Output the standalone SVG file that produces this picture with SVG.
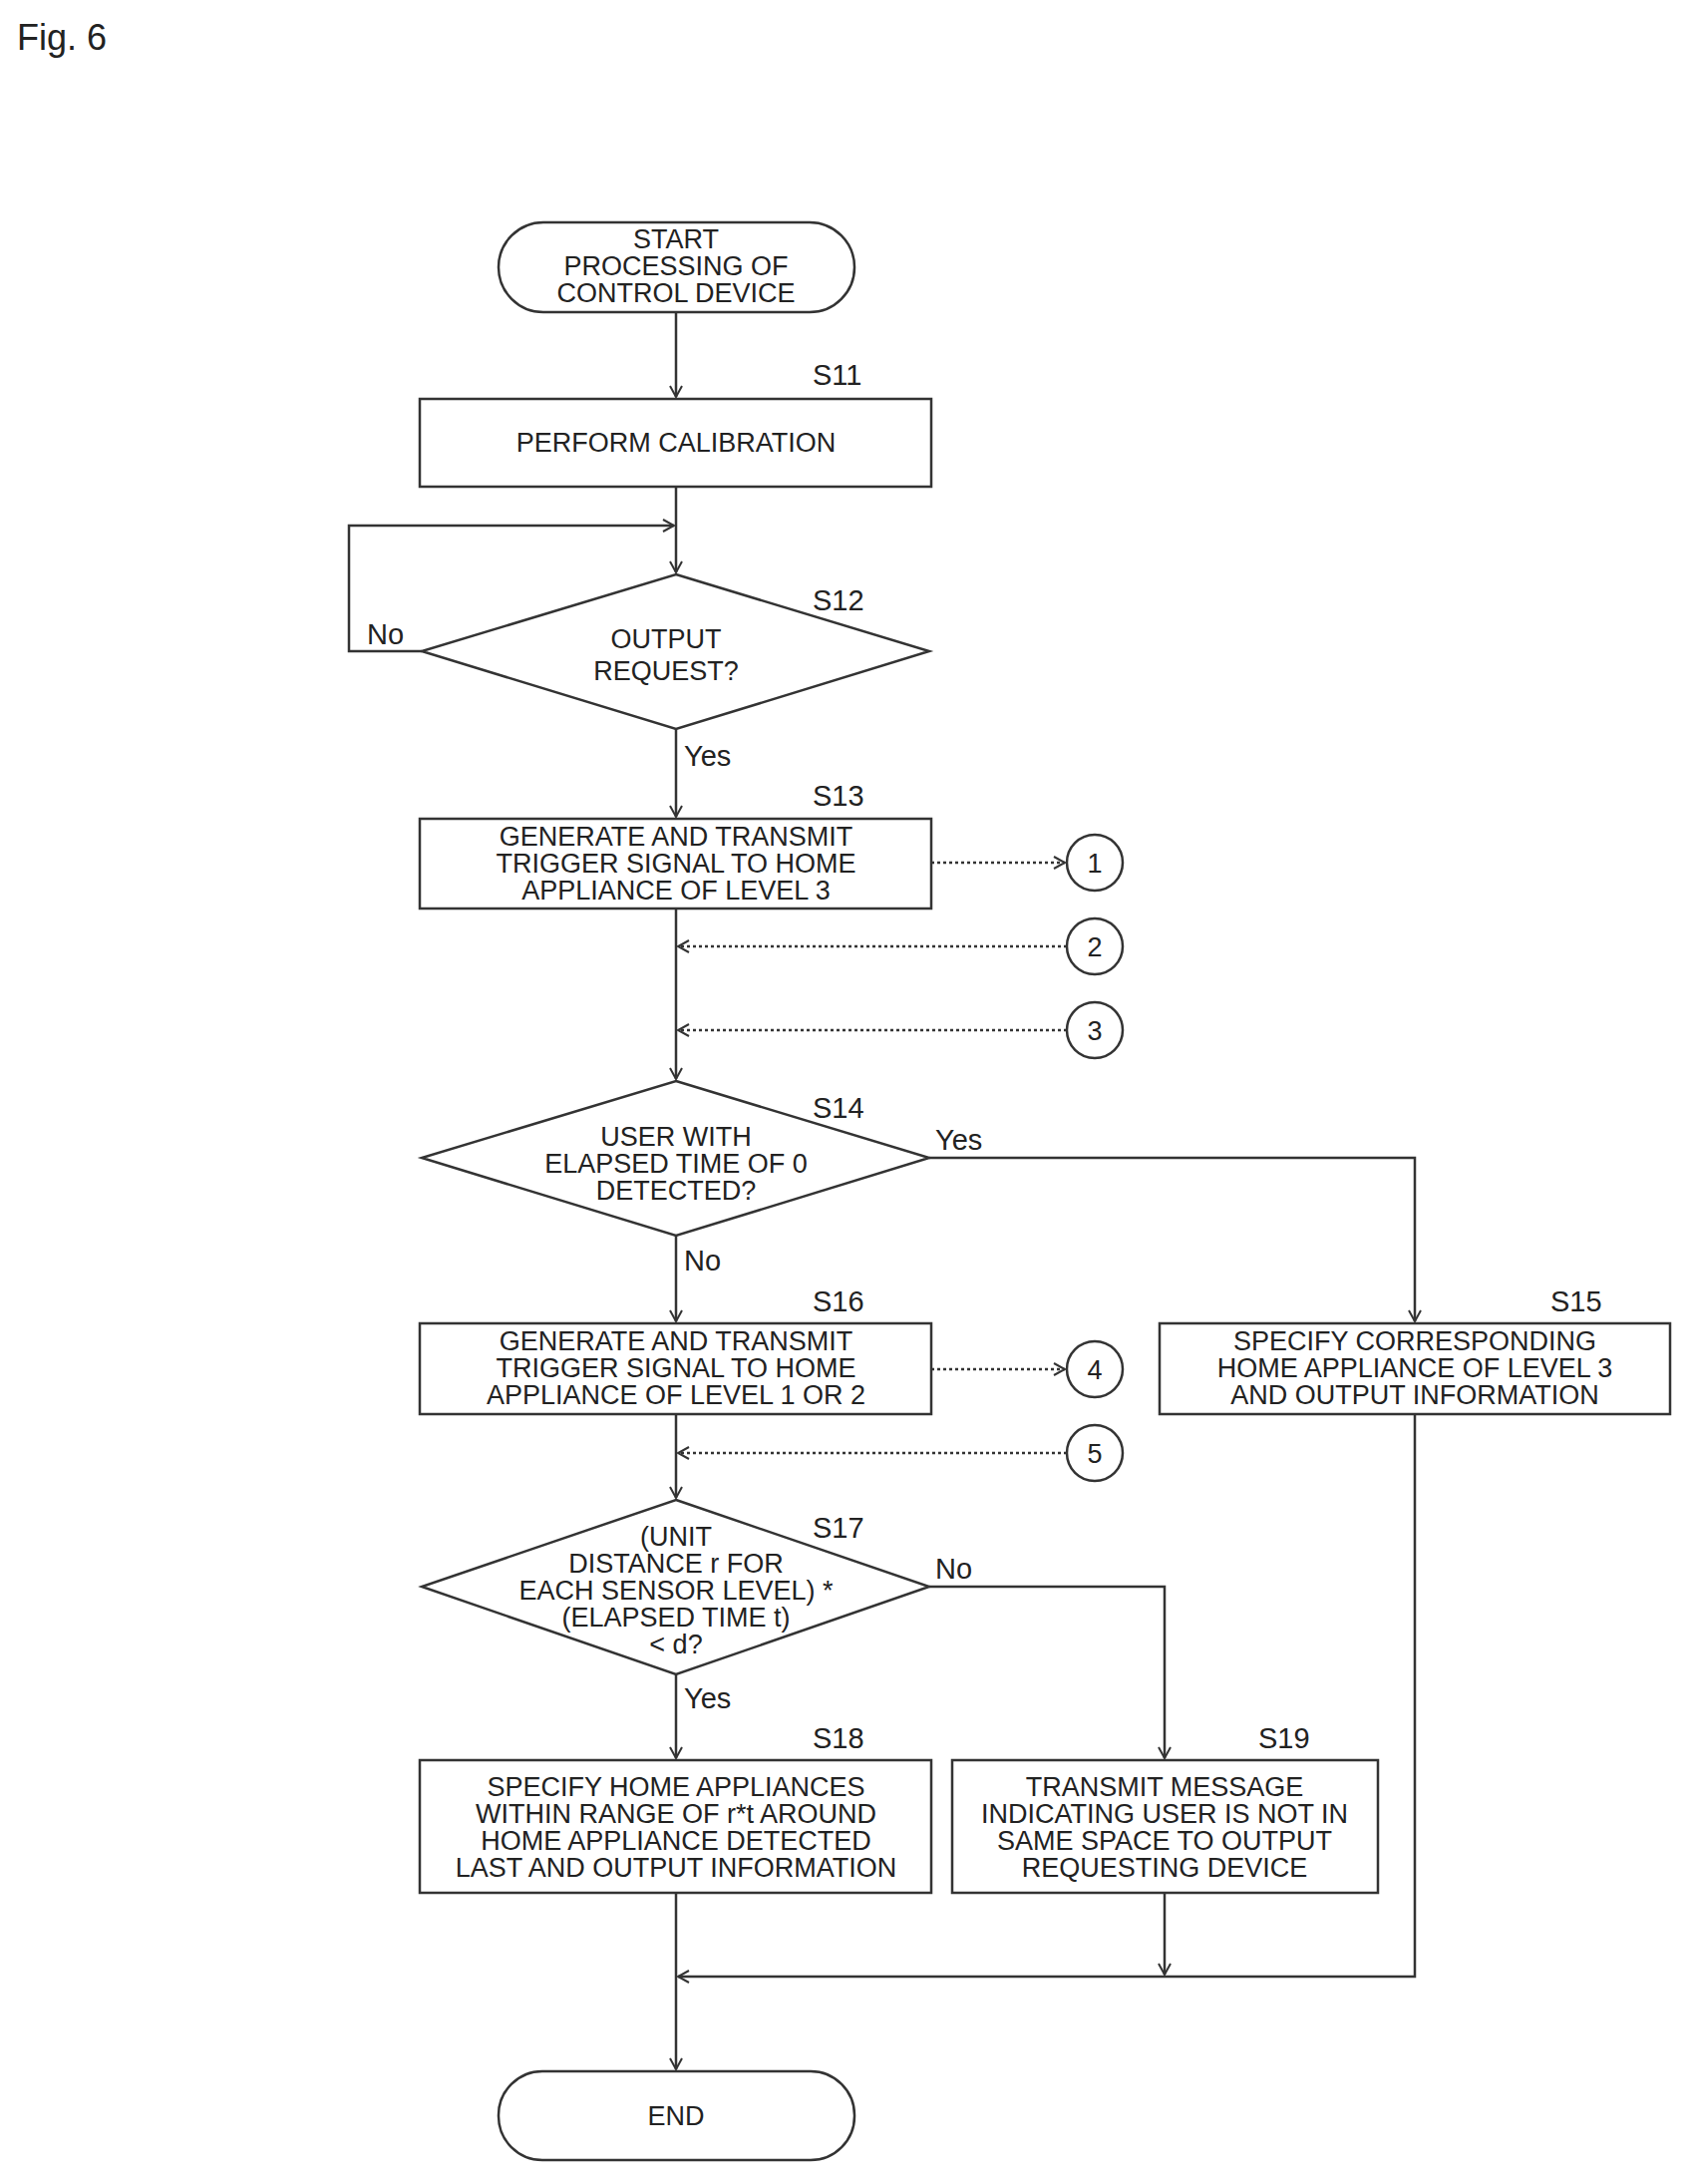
<svg xmlns="http://www.w3.org/2000/svg" width="1697" height="2190" viewBox="0 0 1697 2190">
<style>
.s{fill:#fff;stroke:#333;stroke-width:2.5}
.t{font-family:"Liberation Sans",Arial,sans-serif;font-size:27px;fill:#222;text-anchor:middle}
.l{font-family:"Liberation Sans",Arial,sans-serif;font-size:29px;fill:#222}
.c{fill:none;stroke:#333;stroke-width:2.5}
.d{fill:none;stroke:#333;stroke-width:2.5;stroke-dasharray:3 3}
</style>
<defs>
<marker id="a" markerWidth="14" markerHeight="14" refX="12" refY="7" orient="auto" markerUnits="userSpaceOnUse">
<path d="M1,1 L12,7 L1,13" fill="none" stroke="#333" stroke-width="2"/>
</marker>
</defs>
<rect width="1697" height="2190" fill="#fff"/>
<text x="17" y="50" class="l" style="font-size:36px">Fig. 6</text>

<g id="connectors">
<path class="c" d="M678,313 V398" marker-end="url(#a)"/>
<path class="c" d="M678,488 V574" marker-end="url(#a)"/>
<path class="c" d="M423,653 H350 V527 H676" marker-end="url(#a)"/>
<path class="c" d="M678,731 V819" marker-end="url(#a)"/>
<path class="d" d="M934,865 H1068" marker-end="url(#a)"/>
<path class="c" d="M678,911 V1082" marker-end="url(#a)"/>
<path class="d" d="M1070,949 H680" marker-end="url(#a)"/>
<path class="d" d="M1070,1033 H680" marker-end="url(#a)"/>
<path class="c" d="M932,1161 H1419 V1325" marker-end="url(#a)"/>
<path class="c" d="M678,1239 V1325" marker-end="url(#a)"/>
<path class="d" d="M934,1373 H1068" marker-end="url(#a)"/>
<path class="c" d="M678,1418 V1502" marker-end="url(#a)"/>
<path class="d" d="M1070,1457 H680" marker-end="url(#a)"/>
<path class="c" d="M932,1591 H1168 V1763" marker-end="url(#a)"/>
<path class="c" d="M678,1679 V1763" marker-end="url(#a)"/>
<path class="c" d="M1168,1898 V1980" marker-end="url(#a)"/>
<path class="c" d="M1419,1418 V1982 H680" marker-end="url(#a)"/>
<path class="c" d="M678,1898 V2075" marker-end="url(#a)"/>
</g>

<g id="start"><rect class="s" x="500" y="223" width="357" height="90" rx="45"/>
<text class="t" x="678" y="249">START</text><text class="t" x="678" y="276">PROCESSING OF</text><text class="t" x="678" y="303">CONTROL DEVICE</text></g>

<g id="S11"><rect class="s" x="421" y="400" width="513" height="88"/>
<text class="t" x="678" y="453">PERFORM CALIBRATION</text><text class="l" x="815" y="386">S11</text></g>

<g id="S12"><polygon class="s" points="678,576 932,653 678,731 423,653"/>
<text class="t" x="668" y="650">OUTPUT</text><text class="t" x="668" y="682">REQUEST?</text>
<text class="l" x="815" y="612">S12</text><text class="l" x="368" y="646">No</text><text class="l" x="686" y="768">Yes</text></g>

<g id="S13"><rect class="s" x="421" y="821" width="513" height="90"/>
<text class="t" x="678" y="848">GENERATE AND TRANSMIT</text><text class="t" x="678" y="875">TRIGGER SIGNAL TO HOME</text><text class="t" x="678" y="902">APPLIANCE OF LEVEL 3</text>
<text class="l" x="815" y="808">S13</text></g>

<g id="c1"><circle class="s" cx="1098" cy="865" r="28"/><text class="t" x="1098" y="875">1</text></g>
<g id="c2"><circle class="s" cx="1098" cy="949" r="28"/><text class="t" x="1098" y="959">2</text></g>
<g id="c3"><circle class="s" cx="1098" cy="1033" r="28"/><text class="t" x="1098" y="1043">3</text></g>

<g id="S14"><polygon class="s" points="678,1084 932,1161 678,1239 423,1161"/>
<text class="t" x="678" y="1149">USER WITH</text><text class="t" x="678" y="1176">ELAPSED TIME OF 0</text><text class="t" x="678" y="1203">DETECTED?</text>
<text class="l" x="815" y="1121">S14</text><text class="l" x="938" y="1153">Yes</text><text class="l" x="686" y="1274">No</text></g>

<g id="S16"><rect class="s" x="421" y="1327" width="513" height="91"/>
<text class="t" x="678" y="1354">GENERATE AND TRANSMIT</text><text class="t" x="678" y="1381">TRIGGER SIGNAL TO HOME</text><text class="t" x="678" y="1408">APPLIANCE OF LEVEL 1 OR 2</text>
<text class="l" x="815" y="1315">S16</text></g>

<g id="c4"><circle class="s" cx="1098" cy="1373" r="28"/><text class="t" x="1098" y="1383">4</text></g>
<g id="c5"><circle class="s" cx="1098" cy="1457" r="28"/><text class="t" x="1098" y="1467">5</text></g>

<g id="S15"><rect class="s" x="1163" y="1327" width="512" height="91"/>
<text class="t" x="1419" y="1354">SPECIFY CORRESPONDING</text><text class="t" x="1419" y="1381">HOME APPLIANCE OF LEVEL 3</text><text class="t" x="1419" y="1408">AND OUTPUT INFORMATION</text>
<text class="l" x="1555" y="1315">S15</text></g>

<g id="S17"><polygon class="s" points="678,1504 932,1591 678,1679 423,1591"/>
<text class="t" x="678" y="1550">(UNIT</text><text class="t" x="678" y="1577">DISTANCE r FOR</text><text class="t" x="678" y="1604">EACH SENSOR LEVEL) *</text><text class="t" x="678" y="1631">(ELAPSED TIME t)</text><text class="t" x="678" y="1658">&lt; d?</text>
<text class="l" x="815" y="1542">S17</text><text class="l" x="938" y="1583">No</text><text class="l" x="686" y="1713">Yes</text></g>

<g id="S18"><rect class="s" x="421" y="1765" width="513" height="133"/>
<text class="t" x="678" y="1801">SPECIFY HOME APPLIANCES</text><text class="t" x="678" y="1828">WITHIN RANGE OF r*t AROUND</text><text class="t" x="678" y="1855">HOME APPLIANCE DETECTED</text><text class="t" x="678" y="1882">LAST AND OUTPUT INFORMATION</text>
<text class="l" x="815" y="1753">S18</text></g>

<g id="S19"><rect class="s" x="955" y="1765" width="427" height="133"/>
<text class="t" x="1168" y="1801">TRANSMIT MESSAGE</text><text class="t" x="1168" y="1828">INDICATING USER IS NOT IN</text><text class="t" x="1168" y="1855">SAME SPACE TO OUTPUT</text><text class="t" x="1168" y="1882">REQUESTING DEVICE</text>
<text class="l" x="1262" y="1753">S19</text></g>

<g id="end"><rect class="s" x="500" y="2077" width="357" height="89" rx="44"/>
<text class="t" x="678" y="2131">END</text></g>
</svg>
